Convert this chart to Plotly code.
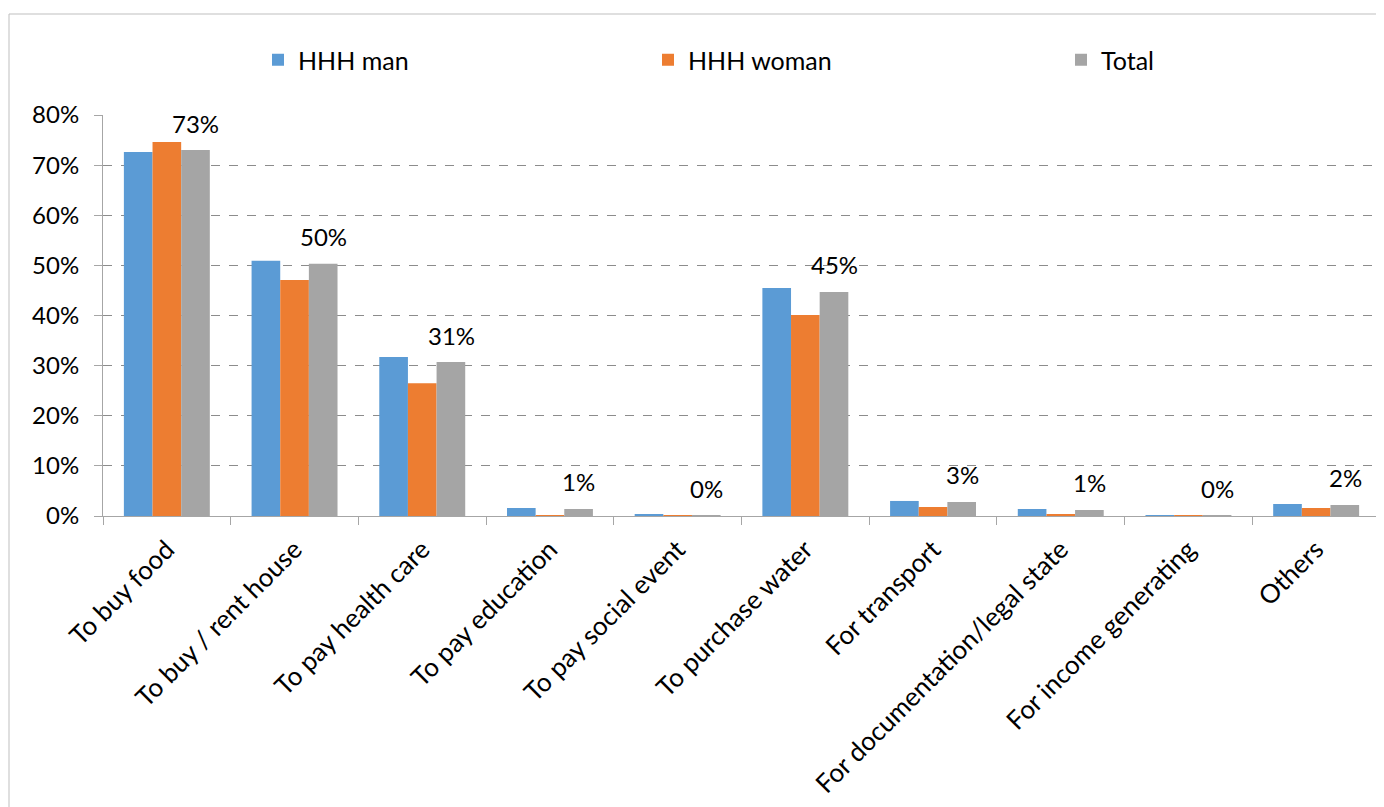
import plotly.graph_objects as go

categories = ["To buy food", "To buy / rent house", "To pay health care", "To pay education",
              "To pay social event", "To purchase water", "For transport",
              "For documentation/legal state", "For income generating", "Others"]
hhh_man = [0.726, 0.509, 0.317, 0.016, 0.003, 0.455, 0.030, 0.014, 0.002, 0.024]
hhh_woman = [0.746, 0.471, 0.265, 0.002, 0.002, 0.401, 0.018, 0.004, 0.001, 0.016]
total = [0.730, 0.503, 0.307, 0.014, 0.002, 0.447, 0.028, 0.012, 0.002, 0.022]
total_labels = ["73%", "50%", "31%", "1%", "0%", "45%", "3%", "1%", "0%", "2%"]

FONT = "Lato, Carlito, Calibri, sans-serif"
colors = {"HHH man": "#5b9bd5", "HHH woman": "#ed7d31", "Total": "#a5a5a5"}

fig = go.Figure()
for name, vals, leg in [("HHH man", hhh_man, "legend"), ("HHH woman", hhh_woman, "legend2"),
                        ("Total", total, "legend3")]:
    fig.add_trace(go.Bar(x=categories, y=vals, name=name, marker_color=colors[name],
                         marker_line_width=0, legend=leg, showlegend=True))

for cat, v, lab in zip(categories, total, total_labels):
    fig.add_annotation(x=cat, y=v, text=lab, showarrow=False, xshift=29, yshift=27,
                       yanchor="middle", font=dict(family=FONT, size=24, color="#000000"))

# page has an 8px body margin, so the figure is laid out 8px smaller/offset
W, H = 1376, 799
L, R, T, B = 95, 4, 107, 291
pw, ph = W - L - R, H - T - B
fig.add_shape(type="rect", xref="paper", yref="paper",
              x0=(1 - L) / pw, x1=(W + 10 - L) / pw,
              y0=(H - B - (H + 10)) / ph, y1=(H - B - 6) / ph,
              line=dict(color="#bfbfbf", width=1), fillcolor="rgba(0,0,0,0)", layer="below")

legend_common = dict(orientation="h", xref="container", yref="container", yanchor="middle",
                     xanchor="left", y=1 - 52 / H,
                     font=dict(family=FONT, size=25, color="#000000"),
                     bgcolor="rgba(0,0,0,0)", borderwidth=0, itemwidth=30, visible=True)
fig.update_layout(
    width=W, height=H,
    margin=dict(l=L, r=R, t=T, b=B, autoexpand=False),
    paper_bgcolor="white", plot_bgcolor="white",
    showlegend=True,
    barmode="group", bargap=0.327, bargroupgap=0,
    font=dict(family=FONT, size=24, color="#000000"),
    legend=dict(x=250 / W, **legend_common),
    legend2=dict(x=640 / W, **legend_common),
    legend3=dict(x=1053 / W, **legend_common),
    xaxis=dict(showline=True, linecolor="#a6a6a6", linewidth=1, ticks="outside",
               tickson="boundaries", ticklen=8, tickcolor="#a6a6a6", tickangle=-45,
               automargin=False, ticklabelstandoff=7,
               tickfont=dict(family=FONT, size=26, color="#000000"), showgrid=False),
    yaxis=dict(range=[0, 0.8], dtick=0.1, tickformat=".0%", showline=True,
               linecolor="#a6a6a6", linewidth=1, ticks="outside", ticklen=8,
               tickcolor="#a6a6a6", showgrid=True, gridcolor="#8c8c8c", griddash="dash",
               gridwidth=1, zeroline=False, ticklabelstandoff=10, automargin=False,
               tickfont=dict(family=FONT, size=24, color="#000000")),
)

fig.write_html("out.html")
